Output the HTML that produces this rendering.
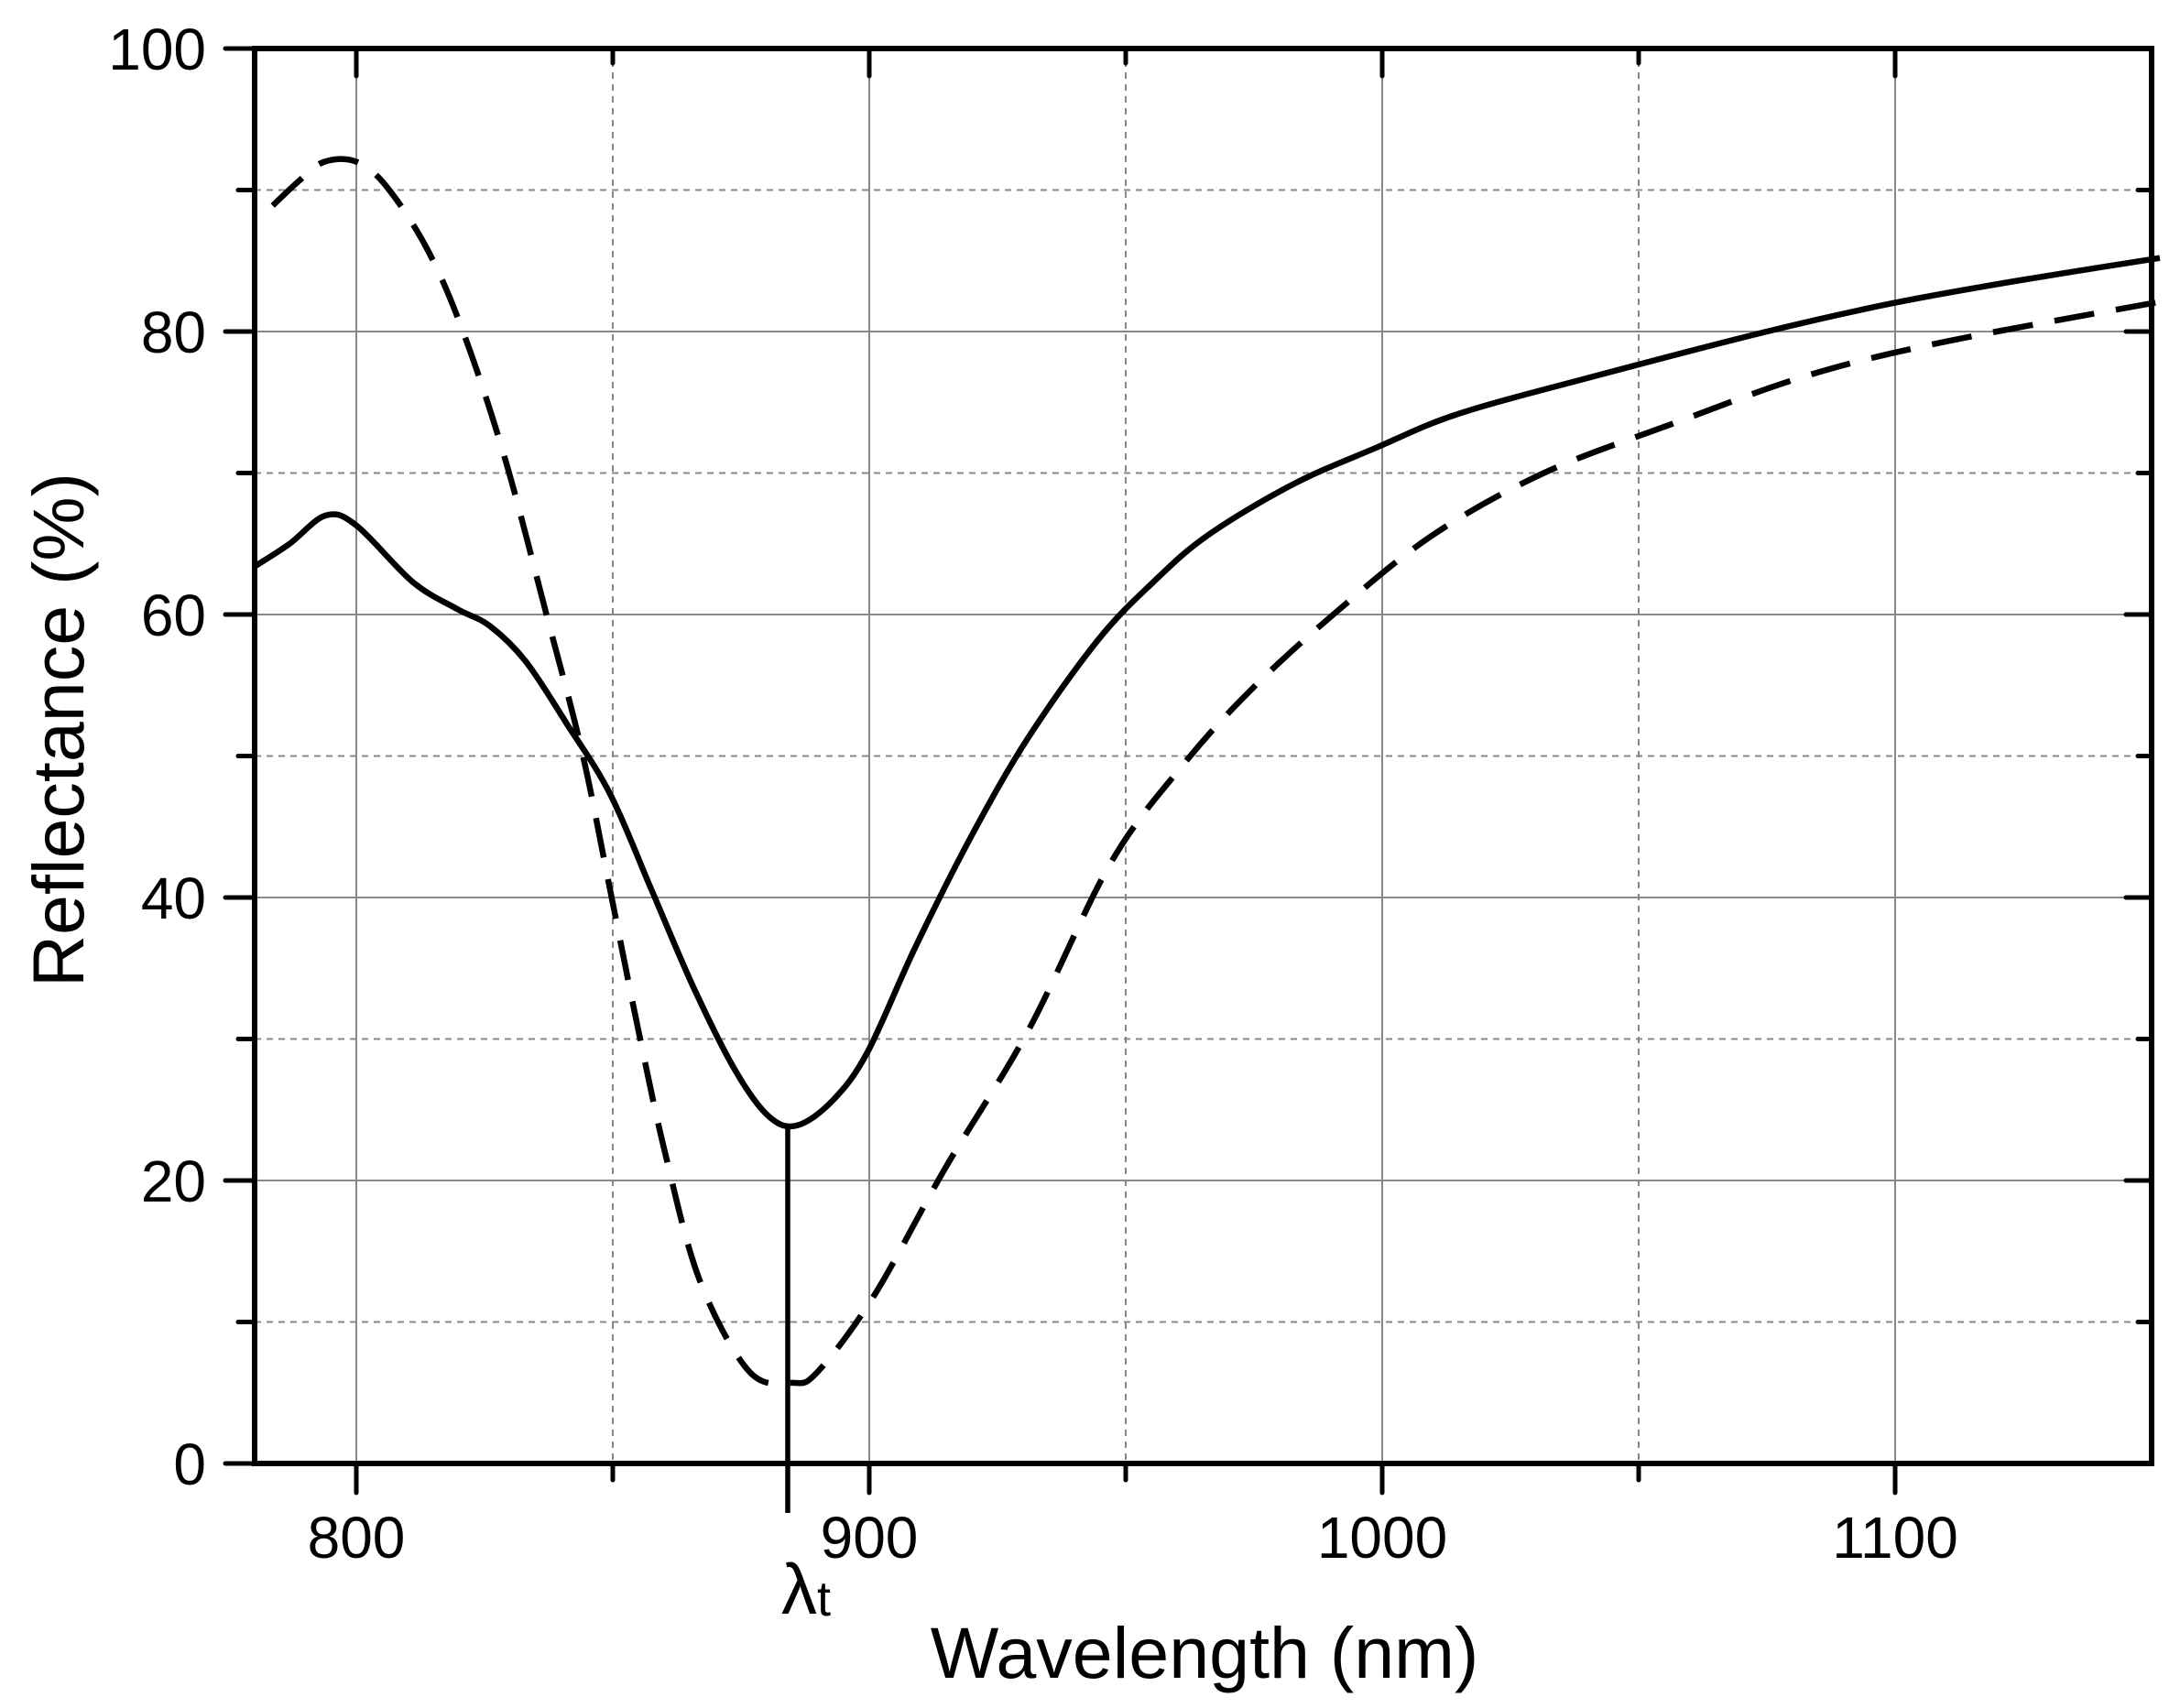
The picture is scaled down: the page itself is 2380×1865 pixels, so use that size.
<!DOCTYPE html>
<html><head><meta charset="utf-8"><style>
html,body{margin:0;padding:0;background:#fff}
svg{display:block}
text{font-family:"Liberation Sans",Arial,sans-serif;fill:#000}
</style></head><body>
<svg id="s" width="2380" height="1865" xmlns="http://www.w3.org/2000/svg">
<g id="grid"></g>
<path id="solid" fill="none" stroke="#000" stroke-width="6.5" stroke-linejoin="round"/>
<path id="dash" fill="none" stroke="#000" stroke-width="6.5" stroke-dasharray="44,24"/>
<line x1="860" y1="1230" x2="860" y2="1652" stroke="#000" stroke-width="5.5"/>
<g id="axes"></g>
<text x="880" y="1762" font-size="78" text-anchor="middle">λ<tspan font-size="54" dy="2">t</tspan></text>
<text x="1315" y="1832" font-size="79" text-anchor="middle">Wavelength (nm)</text>
<text transform="translate(91,797) rotate(-90)" font-size="79" text-anchor="middle">Reflectance (%)</text>
</svg>
<script>
const X=w=>389+(w-800)*5.6, Y=r=>1598-15.45*r;
const L=278,R=2349,T=53,B=1598;
let g='',a='';
for(let w=800;w<=1100;w+=50){const x=X(w);const maj=w%100==0;
 g+=`<line x1="${x}" y1="${T}" x2="${x}" y2="${B}" stroke="#888" stroke-width="2" ${maj?'':'stroke-dasharray="7,6"'}/>`;
 a+=`<line x1="${x}" y1="${B}" x2="${x}" y2="${B+(maj?32:18)}" stroke="#000" stroke-width="5" stroke-linecap="round"/>`;
 a+=`<line x1="${x}" y1="${T}" x2="${x}" y2="${T+(maj?30:16)}" stroke="#000" stroke-width="5" stroke-linecap="round"/>`;
 if(maj)a+=`<text x="${x}" y="1701" font-size="64" text-anchor="middle">${w}</text>`;}
for(let r=0;r<=100;r+=10){const y=Y(r);const maj=r%20==0;
 if(r>0&&r<100)g+=`<line x1="${L}" y1="${y}" x2="${R}" y2="${y}" stroke="#888" stroke-width="2" ${maj?'':'stroke-dasharray="7,6"'}/>`;
 a+=`<line x1="${L}" y1="${y}" x2="${L-(maj?32:18)}" y2="${y}" stroke="#000" stroke-width="5" stroke-linecap="round"/>`;
 a+=`<line x1="${R}" y1="${y}" x2="${R-(maj?28:15)}" y2="${y}" stroke="#000" stroke-width="5" stroke-linecap="round"/>`;
 if(maj)a+=`<text x="225" y="${y+23}" font-size="64" text-anchor="end">${r}</text>`;}
a+=`<rect x="${L}" y="${T}" width="${R-L}" height="${B-T}" fill="none" stroke="#000" stroke-width="6"/>`;
document.getElementById('grid').innerHTML=g;document.getElementById('axes').innerHTML=a;
function sp(pts){const p=pts.map(([w,r])=>[X(w),Y(r)]);let d=`M${p[0][0]},${p[0][1]}`;
 for(let i=0;i<p.length-1;i++){const p0=p[i-1]||p[i],p1=p[i],p2=p[i+1],p3=p[i+2]||p2;
  d+=`C${p1[0]+(p2[0]-p0[0])/6},${p1[1]+(p2[1]-p0[1])/6} ${p2[0]-(p3[0]-p1[0])/6},${p2[1]-(p3[1]-p1[1])/6} ${p2[0]},${p2[1]}`;}return d;}
const s=[[780.2,63.4],[787,65],[794,67],[800,66.3],[811,62.3],[819.6,60.4],[826,59.2],[833,56.7],[841,52.3],[849.5,47.3],[857.6,40.5],[865.8,33.6],[874,27.7],[880.5,24.5],[886,23.9],[893,25.7],[899.7,29.1],[909,36.5],[920,44.4],[931,51.3],[944.6,58.2],[955.4,62.3],[966,65.6],[982.6,69.2],[998.9,71.8],[1015,74.2],[1042,76.9],[1075,80],[1099.5,82],[1124,83.6],[1151.6,85.2]];
const d=[[783.7,88.9],[789,90.7],[793.8,92],[800,92],[806,90.2],[814,85.7],[821,79.8],[829,71],[837,60.1],[844,50.3],[849.5,40.5],[855,30.6],[860.3,21.8],[867,12.9],[876.6,6.5],[885,5.7],[890,6.5],[901,11.9],[914.7,20.8],[931,30.6],[947,42.4],[961,49.3],[974.5,54.7],[990.8,60.1],[1009.8,65.6],[1031.5,70],[1056,73.4],[1083,76.9],[1110,79.3],[1151.6,82.1]];
document.getElementById('solid').setAttribute('d',sp(s));
document.getElementById('dash').setAttribute('d',sp(d));
</script>
</body></html>
